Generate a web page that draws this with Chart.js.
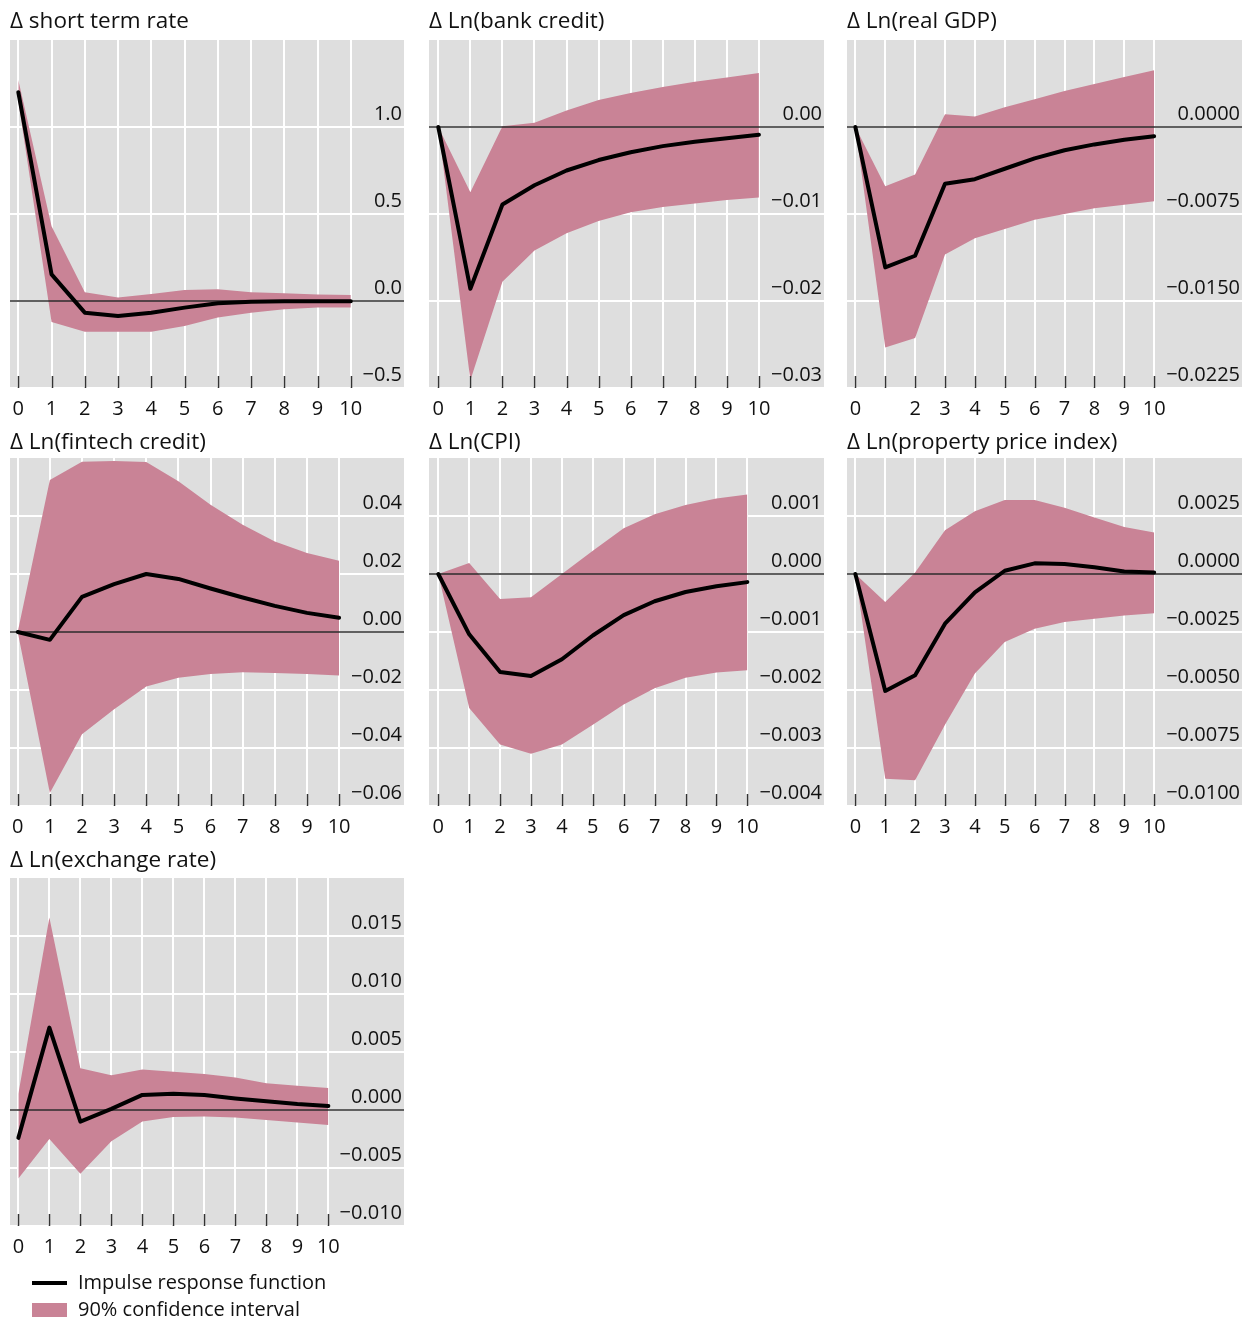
<!DOCTYPE html>
<html>
<head>
<meta charset="utf-8">
<script src="https://cdn.jsdelivr.net/npm/chart.js@4.4.1/dist/chart.umd.min.js"></script>
<style>
  html, body { margin: 0; padding: 0; background: #fff; }
  body { width: 1253px; height: 1319px; position: relative; overflow: hidden; font-family: "Open Sans", "Noto Sans", sans-serif; color: #111; }
  .panel { position: absolute; }
  .legend-item { position: absolute; left: 78px; font-size: 20px; line-height: 26px; white-space: nowrap; color: #111; }
  .swatch { position: absolute; left: 32px; }
</style>
</head>
<body>
<div id="charts"></div>
<div class="swatch" style="top:1281px;width:35px;height:4px;background:#000;"></div>
<div class="legend-item" style="top:1269px;">Impulse response function</div>
<div class="swatch" style="top:1303px;width:35px;height:14px;background:#c98396;"></div>
<div class="legend-item" style="top:1296px;">90% confidence interval</div>

<script>
// Horizons (quarters after the shock)
const horizons = [0, 1, 2, 3, 4, 5, 6, 7, 8, 9, 10];

// Δ short term rate
const rateIrf = [1.2, 0.153, -0.067, -0.086, -0.067, -0.038, -0.013, -0.004, -0.002, -0.002, -0.002];
const rateHi  = [1.27, 0.43, 0.05, 0.02, 0.04, 0.063, 0.067, 0.05, 0.044, 0.038, 0.034];
const rateLo  = [1.15, -0.12, -0.177, -0.177, -0.177, -0.143, -0.095, -0.067, -0.048, -0.038, -0.038];
const rateTicks = [-0.5, 0, 0.5, 1.0];

// Δ Ln(bank credit)
const bankIrf = [0, -0.0186, -0.0089, -0.0067, -0.005, -0.0038, -0.0029, -0.0022, -0.0017, -0.0013, -0.0009];
const bankHi  = [0, -0.0075, 0.0001, 0.0005, 0.0019, 0.0031, 0.0039, 0.0046, 0.0052, 0.0057, 0.0062];
const bankLo  = [0, -0.0291, -0.0178, -0.0142, -0.0122, -0.0108, -0.0098, -0.0092, -0.0088, -0.0084, -0.0081];
const bankTicks = [-0.03, -0.02, -0.01, 0];

// Δ Ln(real GDP)
const gdpIrf = [0, -0.0121, -0.0111, -0.0049, -0.0045, -0.0036, -0.0027, -0.002, -0.0015, -0.0011, -0.0008];
const gdpHi  = [0, -0.0051, -0.0041, 0.0011, 0.0009, 0.0017, 0.0024, 0.0031, 0.0037, 0.0043, 0.0049];
const gdpLo  = [0, -0.019, -0.0182, -0.011, -0.0096, -0.0088, -0.008, -0.0075, -0.007, -0.0067, -0.0064];
const gdpTicks = [-0.0225, -0.015, -0.0075, 0];

// Δ Ln(fintech credit)
const fintechIrf = [0, -0.0027, 0.0121, 0.0165, 0.02, 0.0183, 0.015, 0.0119, 0.009, 0.0066, 0.0049];
const fintechHi  = [0, 0.0524, 0.0587, 0.059, 0.0586, 0.052, 0.0439, 0.037, 0.0312, 0.0272, 0.0246];
const fintechLo  = [0, -0.0555, -0.0353, -0.0266, -0.0188, -0.0158, -0.0145, -0.0139, -0.0141, -0.0145, -0.015];
const fintechTicks = [-0.06, -0.04, -0.02, 0, 0.02, 0.04];

// Δ Ln(CPI)
const cpiIrf = [0, -0.00104, -0.00169, -0.00176, -0.00147, -0.00106, -0.00071, -0.00047, -0.00031, -0.00021, -0.00014];
const cpiHi  = [0, 0.00019, -0.00043, -0.0004, 0, 0.0004, 0.00079, 0.00103, 0.00119, 0.0013, 0.00137];
const cpiLo  = [0, -0.00231, -0.00294, -0.0031, -0.00294, -0.0026, -0.00225, -0.00197, -0.00179, -0.0017, -0.00166];
const cpiTicks = [-0.004, -0.003, -0.002, -0.001, 0, 0.001];

// Δ Ln(property price index)
const propIrf = [0, -0.00504, -0.00436, -0.00214, -0.00079, 0.00014, 0.00046, 0.00043, 0.00029, 0.00011, 0.00007];
const propHi  = [0, -0.00121, 0.00007, 0.00189, 0.00271, 0.00319, 0.00319, 0.00286, 0.00243, 0.00203, 0.00179];
const propLo  = [0, -0.00883, -0.00889, -0.0065, -0.00429, -0.00293, -0.00236, -0.00207, -0.00193, -0.00179, -0.00169];
const propTicks = [-0.01, -0.0075, -0.005, -0.0025, 0, 0.0025];

// Δ Ln(exchange rate)
const fxIrf = [-0.0024, 0.0071, -0.001, 0.0001, 0.0013, 0.0014, 0.0013, 0.001, 0.00075, 0.00052, 0.00035];
const fxHi  = [0.0014, 0.0166, 0.0036, 0.003, 0.0035, 0.0033, 0.0031, 0.0028, 0.0023, 0.0021, 0.0019];
const fxLo  = [-0.0059, -0.0025, -0.0055, -0.0027, -0.001, -0.0006, -0.00055, -0.00064, -0.00087, -0.00107, -0.0013];
const fxTicks = [-0.01, -0.005, 0, 0.005, 0.01, 0.015];

// Horizon labels under each panel
const xLabelsFull = ['0', '1', '2', '3', '4', '5', '6', '7', '8', '9', '10'];
const xLabelsGdp  = ['0', '', '2', '3', '4', '5', '6', '7', '8', '9', '10'];

const FONT = '"Open Sans", "Noto Sans", sans-serif';
const BAND = '#c98396';
const PANEL_BG = '#dedede';
const TEXT = '#111111';

// Panel geometry: plot box (left, top, width), axis extents, title spacing
const panels = [
  { title: 'Δ short term rate', irf: rateIrf, hi: rateHi, lo: rateLo, yTicks: rateTicks, dec: 1,
    yMin: -0.5, yMax: 1.5, xMin: -0.25, xMax: 11.6, xLabels: xLabelsFull, left: 10, top: 40, width: 394, tPad: 8.5 },
  { title: 'Δ Ln(bank credit)', irf: bankIrf, hi: bankHi, lo: bankLo, yTicks: bankTicks, dec: 2,
    yMin: -0.03, yMax: 0.01, xMin: -0.29, xMax: 12.03, xLabels: xLabelsFull, left: 429, top: 40, width: 395, tPad: 8.5 },
  { title: 'Δ Ln(real GDP)', irf: gdpIrf, hi: gdpHi, lo: gdpLo, yTicks: gdpTicks, dec: 4,
    yMin: -0.0225, yMax: 0.0075, xMin: -0.28, xMax: 12.94, xLabels: xLabelsGdp, left: 847, top: 40, width: 395, tPad: 8.5 },
  { title: 'Δ Ln(fintech credit)', irf: fintechIrf, hi: fintechHi, lo: fintechLo, yTicks: fintechTicks, dec: 2,
    yMin: -0.06, yMax: 0.06, xMin: -0.24, xMax: 12.02, xLabels: xLabelsFull, left: 10, top: 458, width: 394, tPad: 11.5 },
  { title: 'Δ Ln(CPI)', irf: cpiIrf, hi: cpiHi, lo: cpiLo, yTicks: cpiTicks, dec: 3,
    yMin: -0.004, yMax: 0.002, xMin: -0.3, xMax: 12.48, xLabels: xLabelsFull, left: 429, top: 458, width: 395, tPad: 11.5 },
  { title: 'Δ Ln(property price index)', irf: propIrf, hi: propHi, lo: propLo, yTicks: propTicks, dec: 4,
    yMin: -0.01, yMax: 0.005, xMin: -0.28, xMax: 12.94, xLabels: xLabelsFull, left: 847, top: 458, width: 395, tPad: 11.5 },
  { title: 'Δ Ln(exchange rate)', irf: fxIrf, hi: fxHi, lo: fxLo, yTicks: fxTicks, dec: 3,
    yMin: -0.01, yMax: 0.02, xMin: -0.27, xMax: 12.44, xLabels: xLabelsFull, left: 10, top: 878, width: 394, tPad: 9.5 }
];

const PLOT_H = 348, TITLE_H = 40, XAXIS_H = 34, PAD_L = 10, PAD_R = 2;
const TITLE_SIZE = 22.5, TITLE_LH = 1.2;

// Grey panel background behind the plot area
const panelBackground = {
  id: 'panelBackground',
  beforeDraw(chart) {
    const { ctx, chartArea: a } = chart;
    ctx.save();
    ctx.fillStyle = PANEL_BG;
    ctx.fillRect(a.left, a.top, a.right - a.left, a.bottom - a.top);
    ctx.restore();
  }
};

// Short tick marks rising from the bottom edge of the plot at each horizon
const innerTicks = {
  id: 'innerTicks',
  afterDatasetsDraw(chart) {
    const { ctx, chartArea: a, scales: { x } } = chart;
    ctx.save();
    ctx.strokeStyle = '#333';
    ctx.lineWidth = 1.5;
    x.ticks.forEach(t => {
      const px = Math.round(x.getPixelForValue(t.value)) + 0.5;
      ctx.beginPath();
      ctx.moveTo(px, a.bottom - 12);
      ctx.lineTo(px, a.bottom);
      ctx.stroke();
    });
    ctx.restore();
  }
};

function fmt(v, dec) {
  const s = Math.abs(v) < 1e-12 ? (0).toFixed(dec) : v.toFixed(dec);
  return s.replace('-', '\u2212');
}

const host = document.getElementById('charts');
panels.forEach(p => {
  const w = p.width + PAD_L + PAD_R;
  const h = TITLE_H + PLOT_H + XAXIS_H;
  const div = document.createElement('div');
  div.className = 'panel';
  div.style.left = (p.left - PAD_L) + 'px';
  div.style.top = (p.top - TITLE_H) + 'px';
  const cv = document.createElement('canvas');
  cv.width = w; cv.height = h;
  cv.style.width = w + 'px'; cv.style.height = h + 'px';
  div.appendChild(cv);
  host.appendChild(div);

  const pts = arr => horizons.map((hz, i) => ({ x: hz, y: arr[i] }));

  new Chart(cv.getContext('2d'), {
    type: 'line',
    data: {
      datasets: [
        { label: 'Impulse response function', data: pts(p.irf), borderColor: '#000', borderWidth: 4,
          pointRadius: 0, fill: false, order: 0, borderJoinStyle: 'round', borderCapStyle: 'round' },
        { label: 'zero', data: [{ x: p.xMin, y: 0 }, { x: p.xMax, y: 0 }], borderColor: '#2b2b2b', borderWidth: 1.3,
          pointRadius: 0, fill: false, order: 1 },
        { label: '90% confidence interval', data: pts(p.hi), borderWidth: 0, borderColor: BAND, backgroundColor: BAND,
          pointRadius: 0, fill: '+1', order: 2 },
        { label: 'lower', data: pts(p.lo), borderWidth: 0, borderColor: BAND, pointRadius: 0, fill: false, order: 3 }
      ]
    },
    options: {
      responsive: false,
      animation: false,
      devicePixelRatio: 1,
      layout: { padding: { left: PAD_L, right: PAD_R, top: 0, bottom: 0 } },
      plugins: {
        legend: { display: false },
        tooltip: { enabled: false },
        title: {
          display: true, text: p.title, align: 'start', color: TEXT,
          font: { family: FONT, size: TITLE_SIZE, weight: 'normal', lineHeight: TITLE_LH },
          padding: { top: p.tPad, bottom: TITLE_H - TITLE_SIZE * TITLE_LH - p.tPad }
        }
      },
      scales: {
        x: {
          type: 'linear', position: 'bottom', min: p.xMin, max: p.xMax,
          afterBuildTicks: s => { s.ticks = horizons.map(v => ({ value: v })); },
          afterFit: s => { s.height = XAXIS_H; },
          grid: { color: '#ffffff', lineWidth: 2, drawTicks: false },
          border: { display: false },
          ticks: {
            autoSkip: false, maxRotation: 0, padding: 9, color: TEXT,
            font: { family: FONT, size: 20 },
            callback: (v) => { const i = horizons.indexOf(v); return i >= 0 ? p.xLabels[i] : ''; }
          }
        },
        y: {
          type: 'linear', position: 'right', min: p.yMin, max: p.yMax,
          afterBuildTicks: s => { s.ticks = p.yTicks.map(v => ({ value: v })); },
          afterFit: s => { s.width = 0; },
          grid: { color: '#ffffff', lineWidth: 2, drawTicks: false },
          border: { display: false },
          ticks: {
            mirror: true, padding: -2, labelOffset: -13, color: TEXT,
            font: { family: FONT, size: 20 },
            callback: (v) => fmt(v, p.dec)
          }
        }
      }
    },
    plugins: [panelBackground, innerTicks]
  });
});
</script>
</body>
</html>
